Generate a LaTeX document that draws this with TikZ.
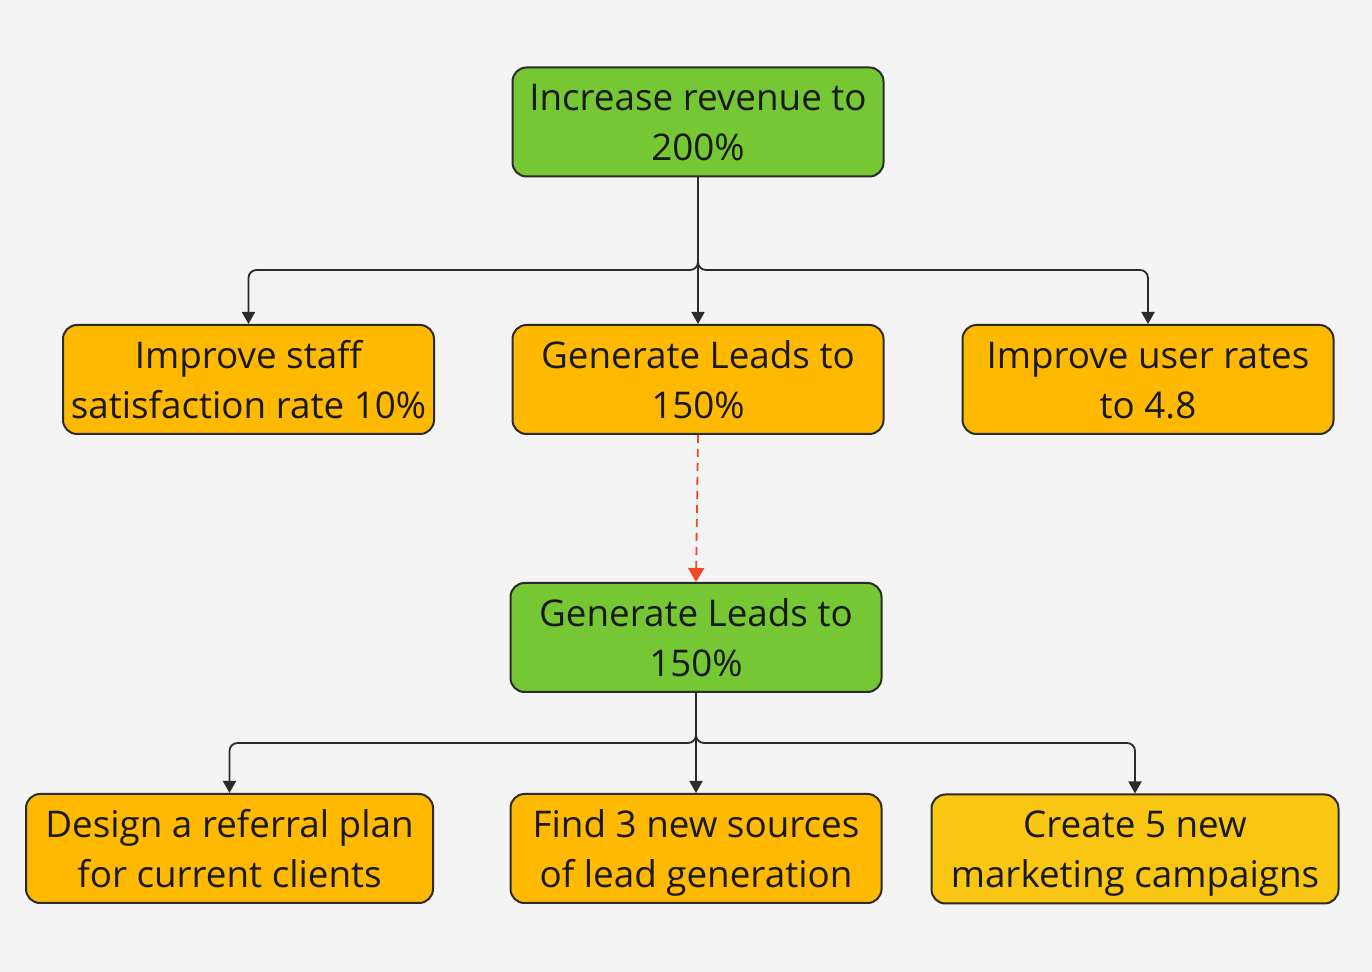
\documentclass[tikz,border=0pt]{standalone}
\usepackage{fontspec}
\setmainfont{Open Sans}
\usetikzlibrary{arrows.meta}
\definecolor{bg}{HTML}{F4F4F4}
\definecolor{gr}{HTML}{75C734}
\definecolor{org}{HTML}{FFB900}
\definecolor{yel}{HTML}{F9C614}
\definecolor{edge}{HTML}{2B2B2B}
\definecolor{rd}{HTML}{F24726}
\begin{document}
\begin{tikzpicture}[x=0.5pt,y=-0.5pt,
  box/.style={draw=edge,line width=1pt,rounded corners=7pt,inner sep=0pt,align=center,
    minimum height=54.5pt,font=\fontsize{18.4}{25}\selectfont,text=black!90,
    text height=45pt, text depth=6pt},
  wbox/.style={box,minimum width=185.5pt},
  xbox/.style={box,minimum width=203.5pt},
  conn/.style={draw=edge,line width=0.9pt,rounded corners=4pt,-{Triangle[length=6pt,width=6.5pt]}},
  dconn/.style={draw=rd,line width=0.9pt,dash pattern=on 4pt off 3pt,-{Triangle[length=7pt,width=8pt]}}]
\fill[bg] (0,0) rectangle (1372,972);
\useasboundingbox (0,0) rectangle (1372,972);
\node[wbox,fill=gr] (top) at (698,122) {Increase revenue to\\200\%};
\node[wbox,fill=org] (l2) at (248.5,379.5) {Improve staff\\satisfaction rate 10\%};
\node[wbox,fill=org] (c2) at (698,379.5) {Generate Leads to\\150\%};
\node[wbox,fill=org] (r2) at (1148,379.5) {Improve user rates\\to 4.8};
\node[wbox,fill=gr] (mid) at (696,637.5) {Generate Leads to\\150\%};
\node[xbox,fill=org] (bl) at (229.5,848.5) {Design a referral plan\\for current clients};
\node[wbox,fill=org] (bm) at (696,848.5) {Find 3 new sources\\of lead generation};
\node[xbox,fill=yel] (br) at (1135,849) {Create 5 new\\marketing campaigns};
\coordinate (j1) at (698,270);
\coordinate (j2) at (696,743);
\draw[conn] (top.south) -- (j1) -| (l2.north);
\draw[conn] (top.south) -- (j1) -| (r2.north);
\draw[conn] (top.south) -- (c2.north);
\draw[dconn] (c2.south) -- (mid.north);
\draw[conn] (mid.south) -- (j2) -| (bl.north);
\draw[conn] (mid.south) -- (j2) -| (br.north);
\draw[conn] (mid.south) -- (bm.north);
\end{tikzpicture}
\end{document}
